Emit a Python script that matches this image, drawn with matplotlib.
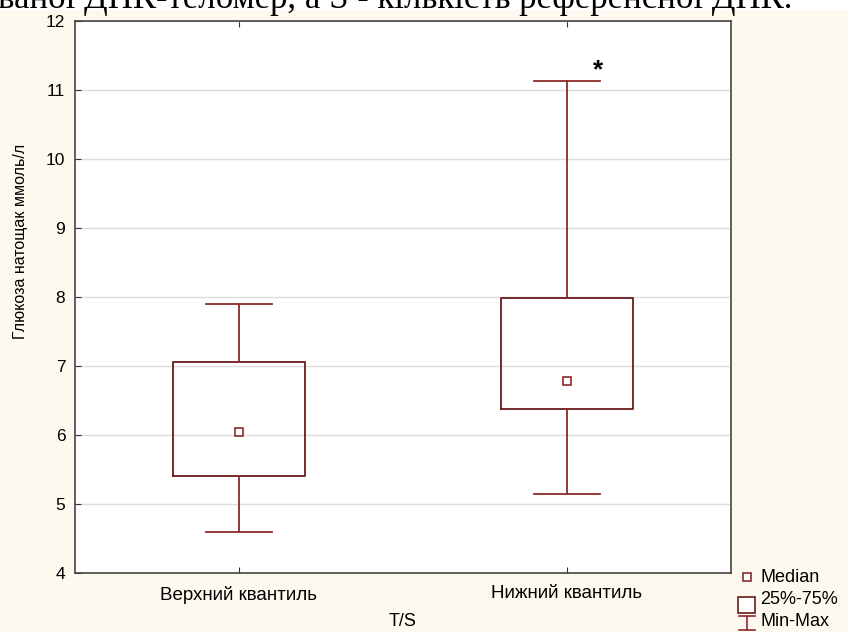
import matplotlib
matplotlib.use('Agg')
from matplotlib import pyplot as plt
from matplotlib.patches import Rectangle
from matplotlib.lines import Line2D

# values
groups = ['Верхний квантиль', 'Нижний квантиль']
med = [6.04, 6.78]
q1 = [5.41, 6.38]
q3 = [7.06, 7.99]
vmin = [4.59, 5.14]
vmax = [7.90, 11.13]
yticks = [4, 5, 6, 7, 8, 9, 10, 11, 12]

box_col = '#6a1b1b'
wh_col = '#8e2a2a'
bg = '#fef9ee'

W, H = 848, 632
fig = plt.figure(figsize=(W / 100, H / 100), dpi=100, facecolor=bg)
plt.rcParams['font.family'] = ['Liberation Sans', 'DejaVu Sans']

# cut-off line of document text above the chart
fig.patches.append(Rectangle((0, 1 - 10 / H), 1, 10 / H, transform=fig.transFigure,
                             facecolor='white', edgecolor='none', zorder=0))
fig.text(-2 / W, 1 - 8 / H, 'ваної ДНК-теломер, а S - кількість референсної ДНК.',
         family='Liberation Serif', fontsize=25, ha='left', va='baseline', color='black')

ax = fig.add_axes([75 / W, 1 - 573 / H, (731 - 75) / W, (573 - 21) / H])
ax.set_facecolor('white')

stats = []
for i in range(len(groups)):
    stats.append({'med': med[i], 'q1': q1[i], 'q3': q3[i],
                  'whislo': vmin[i], 'whishi': vmax[i], 'fliers': []})

ax.bxp(stats, positions=[1, 2], widths=0.4, showfliers=False,
       boxprops=dict(color=box_col, linewidth=1.3),
       whiskerprops=dict(color=wh_col, linewidth=1.3),
       capprops=dict(color=wh_col, linewidth=1.3),
       medianprops=dict(linewidth=0, color='none'),
       capwidths=0.2, zorder=3)
ax.plot([1, 2], med, linestyle='none', marker='s', markersize=6,
        markerfacecolor='white', markeredgecolor=wh_col, markeredgewidth=1.2, zorder=4)

ax.text(2.095, 11.28, '*', fontsize=19, fontweight='bold', ha='center', va='center')

ax.set_xlim(0.5, 2.5)
ax.set_ylim(4, 12)
ax.set_yticks(yticks)
ax.set_xticks([1, 2])
ax.set_xticklabels(groups, fontsize=13.5)
ax.tick_params(axis='x', direction='in', top=True, length=4, pad=9, color='#333333')
ax.tick_params(axis='y', direction='in', length=4, labelsize=12.5, pad=7, color='#333333')
ax.grid(axis='y', color='#dcdcdc', linewidth=1)
ax.set_axisbelow(True)
for s in ax.spines.values():
    s.set_color('#444444')
    s.set_linewidth(1.2)

ax.set_ylabel('Глюкоза натощак ммоль/л', fontsize=11.5)
ax.yaxis.set_label_coords(-47 / (731 - 75), (573 - 241) / (573 - 21))
fig.text(403 / W, 1 - 622 / H, 'T/S', fontsize=13, ha='center', va='center')

# legend drawn by hand, like the original
def px(x, y):
    return x / W, 1 - y / H

fig.lines.append(Line2D(*zip(px(747, 577)), transform=fig.transFigure, marker='s',
                        markersize=6, markerfacecolor='white', markeredgecolor=wh_col,
                        markeredgewidth=1.2, linestyle='none'))
x0, y0 = px(738, 613)
fig.patches.append(Rectangle((x0, y0), 17 / W, 16 / H, transform=fig.transFigure,
                             facecolor='white', edgecolor=box_col, linewidth=1.2))
for yy in (616, 630):
    a, b = px(739, yy)
    c, d = px(755, yy)
    fig.lines.append(Line2D([a, c], [b, d], transform=fig.transFigure, color=wh_col, lw=1.2))
a, b = px(747, 616)
c, d = px(747, 630)
fig.lines.append(Line2D([a, c], [b, d], transform=fig.transFigure, color=wh_col, lw=1.2))

for label, yy in [('Median', 577), ('25%-75%', 599), ('Min-Max', 621)]:
    fig.text(760 / W, 1 - yy / H, label, fontsize=13, ha='left', va='center')

fig.savefig('out.png', dpi=100, facecolor=bg)
